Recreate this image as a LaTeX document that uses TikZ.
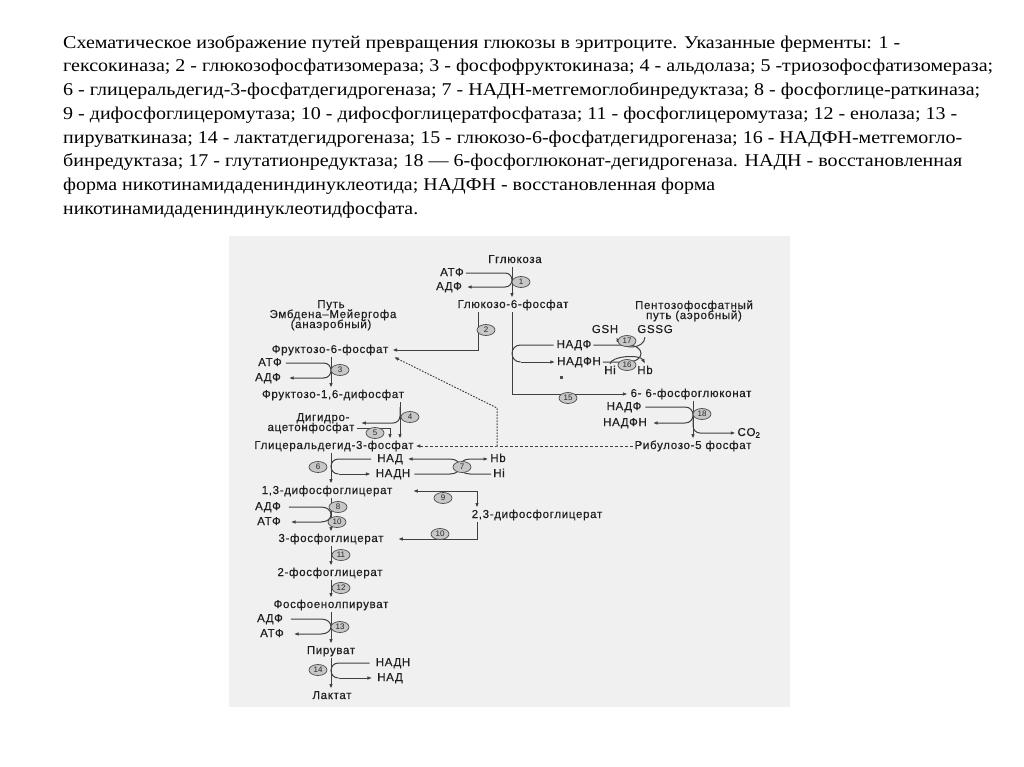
\documentclass[tikz,border=0pt]{standalone}
\usepackage{fontspec}
\usepackage{graphicx}
\usetikzlibrary{arrows.meta,shapes.geometric}
\setmainfont{Liberation Serif}
\newfontfamily\dfont[LetterSpace=6,FakeBold=0.3]{Liberation Sans}
\newfontfamily\nfont{Liberation Sans}
\newsavebox\capbox
\newlength\fitw
\newcommand\fitto[2]{\sbox\capbox{#2}\setlength\fitw{\wd\capbox}\pgfmathsetmacro\fsc{#1/\fitw}\scalebox{\fsc}[1]{\usebox\capbox}}
\begin{document}
\begin{tikzpicture}[x=1pt,y=-1pt,
  capt/.style={inner sep=0pt, font=\fontsize{18}{21}\selectfont, anchor=base west},
  lab/.style={font=\dfont\fontsize{11.5}{12}\selectfont, text=black!88, inner sep=0pt, outer sep=2pt, text height=8.2pt, text depth=2.2pt},
  enz/.style={ellipse, draw=black!70, fill=black!22, line width=0.7pt, minimum width=18pt, minimum height=11pt, inner sep=0pt, font=\nfont\fontsize{8}{9}\selectfont, text=black!85},
  ln/.style={draw=black!75, line width=1pt},
  arr/.style={ln, -{Latex[length=4.8pt,width=3.6pt]}},
  arrb/.style={ln, {Latex[length=4.8pt,width=3.6pt]}-{Latex[length=4.8pt,width=3.6pt]}},
  darr/.style={arr, dash pattern=on 3pt off 2pt},
  dotarr/.style={arr, dash pattern=on 1.6pt off 1.4pt}]

\path[use as bounding box, fill=white] (0,0) rectangle (1024,767);
\fill[black!6] (229,236) rectangle (790,707);

% ---------- caption ----------
\node[capt] (cap1) at (63,48.3) {\fitto{837}{Схематическое изображение путей превращения глюкозы в эритроците. Указанные ферменты: 1 -}};
\node[capt] (cap2) at (63,72) {\fitto{930}{гексокиназа; 2 - глюкозофосфатизомераза; 3 - фосфофруктокиназа; 4 - альдолаза; 5 -триозофосфатизомераза;}};
\node[capt] (cap3) at (63,95.7) {\fitto{917}{6 - глицеральдегид-3-фосфатдегидрогеназа; 7 - НАДН-метгемоглобинредуктаза; 8 - фосфоглице-раткиназа;}};
\node[capt] (cap4) at (63,119.4) {\fitto{894}{9 - дифосфоглицеромутаза; 10 - дифосфоглицератфосфатаза; 11 - фосфоглицеромутаза; 12 - енолаза; 13 -}};
\node[capt] (cap5) at (63,143.1) {\fitto{899}{пируваткиназа; 14 - лактатдегидрогеназа; 15 - глюкозо-6-фосфатдегидрогеназа; 16 - НАДФН-метгемогло-}};
\node[capt] (cap6) at (63,166.8) {\fitto{899}{бинредуктаза; 17 - глутатионредуктаза; 18 — 6-фосфоглюконат-дегидрогеназа. НАДН - восстановленная}};
\node[capt] (cap7) at (63,190.5) {\fitto{652}{форма никотинамидадениндинуклеотида; НАДФН - восстановленная форма}};
\node[capt] (cap8) at (63,214.2) {\fitto{355}{никотинамидадениндинуклеотидфосфата.}};

% ---------- labels ----------
\node[lab] (glc) at (515,260) {Гглюкоза};
\node[lab] (atp1) at (452,273) {АТФ};
\node[lab] (adp1) at (449,287) {АДФ};
\node[lab] (g6p) at (513,305) {Глюкозо-6-фосфат};
\node[lab] (emb1) at (331,305) {Путь};
\node[lab] (emb2) at (333,315) {Эмбдена–Мейергофа};
\node[lab] (emb3) at (331,325) {(анаэробный)};
\node[lab] (ppp1) at (694,306) {Пентозофосфатный};
\node[lab] (ppp2) at (694,316) {путь (аэробный)};
\node[lab] (gsh) at (605,330) {GSH};
\node[lab] (gssg) at (655,330) {GSSG};
\node[lab] (nadp15) at (574,345) {НАДФ};
\node[lab] (nadph15) at (579,362) {НАДФН};
\node[lab] (hi16) at (610,371) {Hi};
\node[lab] (hb16) at (645,371) {Hb};
\node[lab] (f6p) at (330,350) {Фруктозо-6-фосфат};
\node[lab] (atp3) at (270,363) {АТФ};
\node[lab] (adp3) at (268,378) {АДФ};
\node[lab] (f16p) at (333,395) {Фруктозо-1,6-дифосфат};
\node[lab] (pg6) at (691,394) {6- 6-фосфоглюконат};
\node[lab] (nadp18) at (624,407) {НАДФ};
\node[lab] (nadph18) at (625,423) {НАДФН};
\node[lab] (co2) at (749,433) {CO\textsubscript{2}};
\node[lab] (ru5p) at (693,446) {Рибулозо-5 фосфат};
\node[lab] (dhap1) at (323,418) {Дигидро-};
\node[lab] (dhap2) at (311,428) {ацетонфосфат};
\node[lab] (gap) at (334,446) {Глицеральдегид-3-фосфат};
\node[lab] (nad6) at (390,459) {НАД};
\node[lab] (nadh6) at (393,474) {НАДН};
\node[lab] (hb7) at (498,459) {Hb};
\node[lab] (hi7) at (499,474) {Hi};
\node[lab] (bpg13) at (327,491) {1,3-дифосфоглицерат};
\node[lab] (adp8) at (268,507) {АДФ};
\node[lab] (atp8) at (269,522) {АТФ};
\node[lab] (bpg23) at (537,515) {2,3-дифосфоглицерат};
\node[lab] (pg3) at (331,539) {3-фосфоглицерат};
\node[lab] (pg2) at (330,573) {2-фосфоглицерат};
\node[lab] (pep) at (331,605) {Фосфоенолпируват};
\node[lab] (adp13) at (270,619) {АДФ};
\node[lab] (atp13) at (272,634) {АТФ};
\node[lab] (pyr) at (331,651) {Пируват};
\node[lab] (nadh14) at (393,663) {НАДН};
\node[lab] (nad14) at (390,678) {НАД};
\node[lab] (lac) at (332,696) {Лактат};

% ---------- helper coordinates ----------
\coordinate (mA) at (512,0);
\coordinate (mB) at (331,0);
\coordinate (mC) at (400,0);
\coordinate (mD) at (693,0);
\coordinate (e2) at (478,0);
\coordinate (e5) at (390,0);
\coordinate (e9) at (477,0);
\coordinate (j1) at (497,446);
\coordinate (j2) at (497,408);
\coordinate (dhapin) at (361,423);
\coordinate (f6pin) at (394,357);
\coordinate (bpg13in) at (413,491);
\coordinate (pg3in) at (398,539);

% ---------- main glycolysis ----------
\draw[arr] (mA |- glc.south) -- (mA |- g6p.north);
\draw[arr] (atp1.east) -- (505,273) .. controls (514.3,273) and (514.3,287) .. (505,287) -- ([xshift=3pt]adp1.east);
\draw[arr] (e2 |- g6p.south) |- ([xshift=2pt]f6p.east);
\draw[arr] (mB |- f6p.south) -- (mB |- f16p.north);
\draw[arr] ([xshift=2pt]atp3.east) -- (323.5,363) .. controls (333.5,363) and (333.5,378) .. (323.5,378) -- ([xshift=6pt]adp3.east);
\draw[arr] (mC |- f16p.south) -- (mC |- gap.north);
\draw[arr, rounded corners=7pt] (400,407) |- (dhapin);
\draw[arr] ([xshift=1pt]dhap2.east) -| (e5 |- gap.north);
\draw[arr] (mB |- gap.south) -- (mB |- bpg13.north);
\draw[ln] ([xshift=-4pt]nad6.west) -- (338.5,459) .. controls (328.5,459) and (328.5,474) .. (338.5,474);
\draw[arr] (338.5,474) -- ([xshift=-3pt]nadh6.west);
\draw[arr] ([xshift=2pt]nadh6.east) -- (450,474) .. controls (463.3,474) and (463.3,459) .. (450,459) -- ([xshift=3pt]nad6.east);
\draw[arr] (hi7.west) -- (470,474) .. controls (456.7,474) and (456.7,459) .. (470,459) -- (hb7.west);
\draw[arrb] (bpg13in) -| (e9 |- bpg23.north);
\draw[arr] (e9 |- bpg23.south) |- (pg3in);
\draw[arr] (mB |- bpg13.south) -- (mB |- pg3.north);
\draw[arr] ([xshift=6pt]adp8.east) -- (321,507) .. controls (334.3,507) and (334.3,522) .. (321,522) -- ([xshift=8pt]atp8.east);
\draw[arr] (mB |- pg3.south) -- (mB |- pg2.north);
\draw[arr] (mB |- pg2.south) -- (mB |- pep.north);
\draw[arr] (mB |- pep.south) -- (mB |- pyr.north);
\draw[arr] ([xshift=6pt]adp13.east) -- (321,619) .. controls (334.3,619) and (334.3,634) .. (321,634) -- ([xshift=8pt]atp13.east);
\draw[arr] (mB |- pyr.south) -- (mB |- lac.north);
\draw[ln] ([xshift=-4pt]nadh14.west) -- (338.5,663) .. controls (328.5,663) and (328.5,678) .. (338.5,678);
\draw[arr] (338.5,678) -- ([xshift=-3pt]nad14.west);

% ---------- pentose phosphate ----------
\draw[arr] (mA |- g6p.south) |- ([xshift=-1pt]pg6.west);
\draw[ln] ([xshift=-1pt]nadp15.west) -- (520.5,345) .. controls (509.2,345) and (509.2,362) .. (520.5,362);
\draw[arr] (520.5,362) -- (nadph15.west);
\draw[ln] (nadp15.east) -- (627,345) .. controls (645.7,345) and (645.7,362) .. (627,362) -- (nadph15.east);
\draw[arr] ([xshift=-10pt]gssg.south) .. controls (644,350) and (622,349) .. ([xshift=-4pt]gsh.south east);
\draw[arr] (hi16.north) .. controls (611,356) and (640,354) .. (hb16.north);
\fill[black!70] (560,376) rectangle (563,378.5);
\draw[arr] (mD |- pg6.south) -- (mD |- ru5p.north);
\draw[arr] ([xshift=2pt]nadp18.east) -- (685,407) .. controls (695.7,407) and (695.7,423) .. (685,423) -- ([xshift=4pt]nadph18.east);
\draw[arr, rounded corners=7pt] (693,418) |- (co2.west);

% ---------- dashed links ----------
\draw[darr] (ru5p.west) -- (j1) -- (gap.east);
\draw[dotarr] (j1) -- (j2) -- (f6pin);

% ---------- enzymes ----------
\node[enz] (c1) at (521,282) {1};
\node[enz] (c2) at (486,330) {2};
\node[enz] (c3) at (340,370) {3};
\node[enz] (c4) at (410,417) {4};
\node[enz] (c5) at (375,433) {5};
\node[enz] (c6) at (318,467) {6};
\node[enz] (c7) at (462,467) {7};
\node[enz] (c8) at (338,507) {8};
\node[enz] (c10a) at (337,522) {10};
\node[enz] (c9) at (443,498) {9};
\node[enz] (c10b) at (440,534) {10};
\node[enz] (c11) at (341,555) {11};
\node[enz] (c12) at (341,588) {12};
\node[enz] (c13) at (340,627) {13};
\node[enz] (c14) at (318,670) {14};
\node[enz] (c15) at (568,398) {15};
\node[enz] (c16) at (627,365) {16};
\node[enz] (c17) at (627,341) {17};
\node[enz] (c18) at (702,414) {18};
\end{tikzpicture}
\end{document}
